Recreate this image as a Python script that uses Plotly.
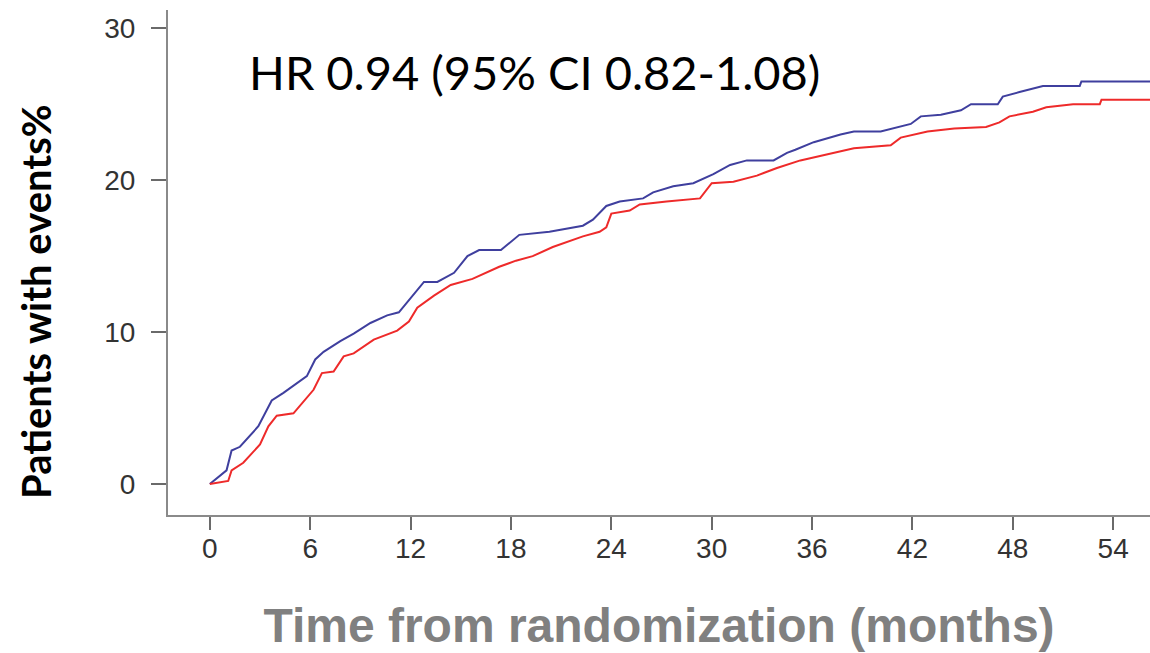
import plotly.graph_objects as go

# ---- data ----
blue_months = [0, 1.0, 1.3, 1.8, 2.9, 3.7, 4.4, 5.8, 6.3, 6.8, 7.8, 8.6, 9.6, 10.6, 11.3,
               12.2, 12.8, 13.6, 14.6, 15.4, 16.1, 17.4, 18.5, 20.3, 22.3, 22.9, 23.7,
               24.5, 25.9, 26.5, 27.7, 28.9, 30.1, 31.1, 32.1, 33.7, 34.5, 35.0, 36.1,
               37.7, 38.5, 40.1, 41.3, 41.9, 42.5, 43.7, 44.9, 45.5, 47.1, 47.4, 48.4,
               49.2, 49.8, 52.0, 52.1, 56.2]
blue_pct = [0, 0.9, 2.2, 2.45, 3.8, 5.5, 6.0, 7.1, 8.2, 8.7, 9.4, 9.9, 10.6, 11.1, 11.3,
            12.5, 13.3, 13.3, 13.9, 15.0, 15.4, 15.4, 16.4, 16.6, 17.0, 17.4, 18.3,
            18.6, 18.8, 19.2, 19.6, 19.8, 20.4, 21.0, 21.3, 21.3, 21.8, 22.0, 22.5,
            23.0, 23.2, 23.2, 23.5, 23.7, 24.2, 24.3, 24.6, 25.0, 25.0, 25.5, 25.8,
            26.0, 26.2, 26.2, 26.5, 26.5]

red_months = [0, 1.1, 1.3, 2.0, 3.0, 3.5, 4.0, 5.0, 6.2, 6.7, 7.4, 8.0, 8.6, 9.8, 11.2,
              11.9, 12.4, 13.4, 14.4, 15.7, 17.3, 18.3, 19.3, 20.5, 22.3, 23.3, 23.7,
              24.0, 25.1, 25.7, 27.3, 29.3, 30.0, 31.3, 32.7, 33.9, 35.3, 37.7, 38.5,
              40.7, 41.3, 42.9, 44.5, 46.4, 47.2, 47.8, 49.2, 50.0, 51.6, 53.2, 53.3, 56.2]
red_pct = [0, 0.2, 0.9, 1.4, 2.6, 3.8, 4.5, 4.65, 6.2, 7.3, 7.4, 8.4, 8.6, 9.5, 10.1,
           10.7, 11.6, 12.4, 13.1, 13.5, 14.3, 14.7, 15.0, 15.6, 16.3, 16.6, 16.9,
           17.8, 18.0, 18.4, 18.6, 18.8, 19.8, 19.9, 20.3, 20.8, 21.3, 21.9, 22.1,
           22.3, 22.8, 23.2, 23.4, 23.5, 23.8, 24.2, 24.5, 24.8, 25.0, 25.0, 25.3, 25.3]

x_ticks = [0, 6, 12, 18, 24, 30, 36, 42, 48, 54]
x_tick_labels = [str(v) for v in x_ticks]
y_ticks = [0, 10, 20, 30]
y_tick_labels = [str(v) for v in y_ticks]

hr_text = "HR 0.94 (95% CI 0.82-1.08)"
x_title = "Time from randomization (months)"
y_title = "Patients with events%"

fig = go.Figure()
fig.add_trace(go.Scatter(x=blue_months, y=blue_pct, mode="lines",
                         line=dict(color="#3f3f9e", width=2), showlegend=False))
fig.add_trace(go.Scatter(x=red_months, y=red_pct, mode="lines",
                         line=dict(color="#ee2a2a", width=2), showlegend=False))

axis_common = dict(showgrid=False, zeroline=False, showline=True,
                   linecolor="#8a8a8a", linewidth=2, ticks="outside",
                   tickcolor="#6a6a6a", tickwidth=1.5,
                   tickfont=dict(family="Liberation Sans", size=28, color="#333333"))

fig.update_xaxes(range=[-2.5, 56.2], tickvals=x_ticks, ticktext=x_tick_labels,
                 ticklen=13, ticklabelstandoff=-6,
                 title=dict(text=x_title, standoff=46,
                            font=dict(family="Liberation Sans", size=48, color="#808080",
                                      weight="bold")),
                 **axis_common)
fig.update_yaxes(range=[-2.04, 31.2], tickvals=y_ticks, ticktext=y_tick_labels,
                 ticklen=15, ticklabelstandoff=10, **axis_common)

fig.add_annotation(text=hr_text, xref="paper", yref="paper", x=0.0805, y=0.878,
                   xanchor="left", yanchor="middle", showarrow=False,
                   font=dict(family="Lato", size=47, color="#000000"))
fig.add_annotation(text=y_title, xref="paper", yref="paper", x=-0.1344, y=0.4218,
                   xanchor="center", yanchor="middle", textangle=-90, showarrow=False,
                   font=dict(family="Lato", size=40, color="#000000", weight="bold"))

fig.update_layout(width=1150, height=653,
                  margin=dict(l=168, r=0, t=10, b=138, autoexpand=False),
                  plot_bgcolor="white", paper_bgcolor="white")

fig.write_html("out.html")
